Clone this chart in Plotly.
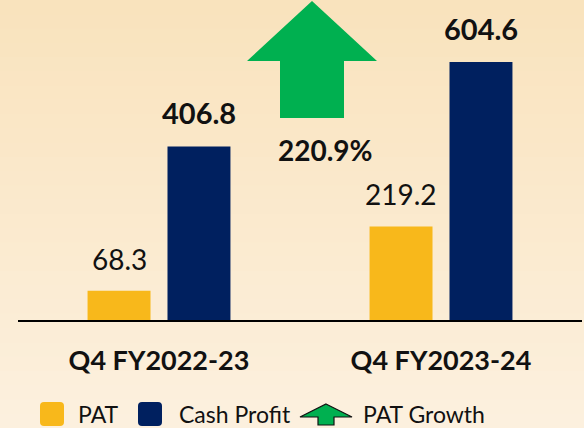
import plotly.graph_objects as go

# ---- data ----
categories = ["Q4 FY2022-23", "Q4 FY2023-24"]
pat = [68.3, 219.2]
cash_profit = [406.8, 604.6]
pat_growth_label = "220.9%"
series_names = ["PAT", "Cash Profit", "PAT Growth"]

# ---- style ----
W, H = 584, 428
ML, MR, MT, MB = 18, 2, 0, 108
PW, PH = W - ML - MR, H - MT - MB
YMAX = 750
C_PAT = "#F8B81B"
C_CASH = "#00205F"
C_GREEN = "#00B050"
FONT = "Lato, 'Open Sans', sans-serif"


def px(x):
    return (x - ML) / PW


def py(y):
    return (H - MB - y) / PH


fig = go.Figure()
fig.add_trace(go.Bar(x=categories, y=pat, name=series_names[0], marker_color=C_PAT,
                     marker_line_width=0, showlegend=False, hoverinfo="skip"))
fig.add_trace(go.Bar(x=categories, y=cash_profit, name=series_names[1], marker_color=C_CASH,
                     marker_line_width=0, showlegend=False, hoverinfo="skip"))

shapes = []
# background gradient
top = (249, 227, 189)
bot = (252, 240, 222)
n = 30
for i in range(n):
    t = i / (n - 1)
    c = tuple(round(top[k] + (bot[k] - top[k]) * t) for k in range(3))
    shapes.append(dict(type="rect", xref="paper", yref="paper", layer="below",
                       x0=px(0), x1=px(W), y0=py(H * i / n), y1=py(H * (i + 1) / n + 1),
                       fillcolor="rgb(%d,%d,%d)" % c, line_width=0))


def arrow_path(cx, tip, head_base, bottom, head_half, stem_half):
    pts = [(cx, tip), (cx + head_half, head_base), (cx + stem_half, head_base),
           (cx + stem_half, bottom), (cx - stem_half, bottom), (cx - stem_half, head_base),
           (cx - head_half, head_base)]
    return "M " + " L ".join("%.5f,%.5f" % (px(a), py(b)) for a, b in pts) + " Z"


# big growth arrow
shapes.append(dict(type="path", xref="paper", yref="paper",
                   path=arrow_path(312, 1, 61, 118, 65, 32),
                   fillcolor=C_GREEN, line_width=0))

annotations = []
# value labels
for i, c in enumerate(categories):
    annotations.append(dict(x=c, y=pat[i], xref="x", yref="y", xshift=-40, yshift=13,
                            yanchor="bottom", showarrow=False, text="%.1f" % pat[i],
                            font=dict(family=FONT, size=28, color="#111111")))
    annotations.append(dict(x=c, y=cash_profit[i], xref="x", yref="y", xshift=40, yshift=14,
                            yanchor="bottom", showarrow=False, text="<b>%.1f</b>" % cash_profit[i],
                            font=dict(family=FONT, size=29, color="#111111")))

annotations.append(dict(x=px(325), y=py(150), xref="paper", yref="paper", showarrow=False,
                        text="<b>%s</b>" % pat_growth_label,
                        font=dict(family=FONT, size=28, color="#111111")))

# legend (manual)
def rounded_square(x0, y0, size, r, color):
    x1, y1 = x0 + size, y0 + size
    p = ("M %f,%f L %f,%f Q %f,%f %f,%f L %f,%f Q %f,%f %f,%f L %f,%f Q %f,%f %f,%f "
         "L %f,%f Q %f,%f %f,%f Z") % (
        px(x0 + r), py(y0), px(x1 - r), py(y0), px(x1), py(y0), px(x1), py(y0 + r),
        px(x1), py(y1 - r), px(x1), py(y1), px(x1 - r), py(y1),
        px(x0 + r), py(y1), px(x0), py(y1), px(x0), py(y1 - r),
        px(x0), py(y0 + r), px(x0), py(y0), px(x0 + r), py(y0))
    return dict(type="path", xref="paper", yref="paper", path=p, fillcolor=color, line_width=0)


shapes.append(rounded_square(40, 402, 24, 4, C_PAT))
shapes.append(rounded_square(138, 402, 24, 4, C_CASH))
shapes.append(dict(type="path", xref="paper", yref="paper",
                   path=arrow_path(326, 404, 417, 425, 26, 8),
                   fillcolor=C_GREEN, line=dict(color="#111111", width=1.2)))

leg = [(76, series_names[0]), (177, series_names[1]), (361, series_names[2])]
for x, t in leg:
    annotations.append(dict(x=px(x), y=py(414), xref="paper", yref="paper", xanchor="left",
                            yanchor="middle", showarrow=False, text=t,
                            font=dict(family=FONT, size=23, color="#111111")))

fig.update_layout(
    width=W, height=H,
    margin=dict(l=ML, r=MR, t=MT, b=MB),
    paper_bgcolor="rgb(250,233,203)", plot_bgcolor="rgba(0,0,0,0)",
    barmode="group", bargap=0.433, bargroupgap=0.2125,
    shapes=shapes, annotations=annotations, showlegend=False,
    xaxis=dict(showline=True, linecolor="#000000", linewidth=2, ticks="",
               tickfont=dict(family=FONT, size=27, color="#111111"),
               ticklabelstandoff=16, showgrid=False, zeroline=False,
               tickvals=categories, ticktext=["<b>%s</b>" % c for c in categories]),
    yaxis=dict(range=[0, YMAX], visible=False, showgrid=False, zeroline=False),
)

fig.write_html("out.html", config={"displayModeBar": False},
               post_script="document.body.style.margin='0';document.body.style.overflow='hidden';")
